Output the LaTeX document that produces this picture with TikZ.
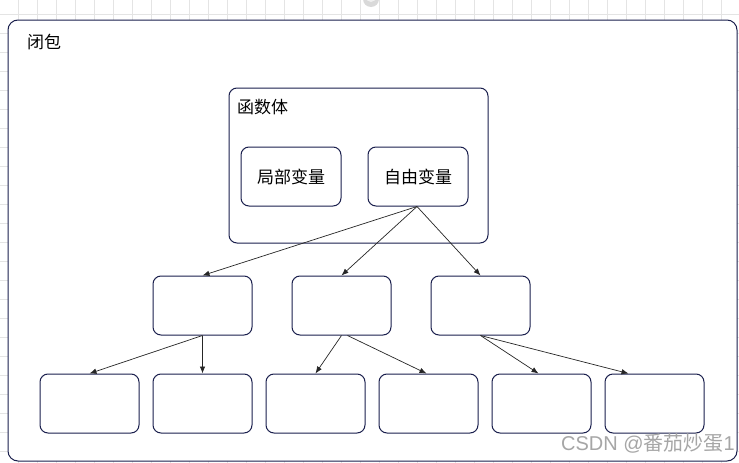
\documentclass[tikz,border=0pt]{standalone}
\usepackage{fontspec}
\newfontfamily\cjk{Noto Sans CJK SC}
\newfontfamily\wlat{Liberation Sans}
\usetikzlibrary{arrows.meta}
\definecolor{boxc}{HTML}{1A1F4D}
\definecolor{gridc}{HTML}{E4E4E4}
\begin{document}
\begin{tikzpicture}[x=1pt,y=-1pt,
  box/.style={draw=boxc, line width=1pt, rounded corners=8pt, fill=white, inner sep=0pt},
  cell/.style={box, minimum width=99pt, minimum height=59pt},
  conn/.style={draw=black!85, line width=0.7pt, -{Latex[length=7pt,width=5.5pt]}},
  lbl/.style={font=\cjk\fontsize{17}{19}\selectfont, text=black, inner sep=0pt}]
\useasboundingbox (0,0) rectangle (739,463);
\fill[white] (0,0) rectangle (739,463);
\foreach \i in {0,...,39} \draw[gridc, line width=0.8pt] (19*\i-0.3,0) -- (19*\i-0.3,463);
\foreach \j in {0,...,24} \draw[gridc, line width=0.8pt] (0,14+19*\j) -- (739,14+19*\j);
\fill[gray!30] (371,-1) circle (8);
\fill[gray!12] (371,-3) circle (5);
% outer
\node[box, rounded corners=10pt, minimum width=729pt, minimum height=441pt] (outer) at (372.5,240.5) {};
\node[lbl, anchor=west] (tclos) at (27,42) {闭包};
% function body
\node[box, minimum width=259pt, minimum height=155pt] (body) at (358.5,165.5) {};
\node[lbl, anchor=west] (tbody) at (237,107) {函数体};
\node[cell, minimum width=100pt] (local) at (291,176.5) {};
\node[lbl] (tlocal) at (local.center) {局部变量};
\node[cell, minimum width=100pt] (free) at (418,176.5) {};
\node[lbl] (tfree) at (free.center) {自由变量};
% row 2
\node[cell] (ra) at (202.5,305.5) {};
\node[cell] (rb) at (341.5,305.5) {};
\node[cell] (rc) at (480.5,305.5) {};
% row 3
\node[cell] (sa) at (89.5,403.5) {};
\node[cell] (sb) at (202.5,403.5) {};
\node[cell] (sc) at (315.5,403.5) {};
\node[cell] (sd) at (428.5,403.5) {};
\node[cell] (se) at (541.5,403.5) {};
\node[cell] (sf) at (654.5,403.5) {};
% connectors
\draw[conn] ([xshift=-1pt]free.south) -- (ra.north);
\draw[conn] ([xshift=-1pt]free.south) -- (rb.north);
\draw[conn] ([xshift=-1pt]free.south) -- (rc.north);
\draw[conn] (ra.south) -- (sa.north);
\draw[conn] (ra.south) -- (sb.north);
\draw[conn] (rb.south) -- (sc.north);
\draw[conn] ([xshift=6pt]rb.south) -- ([xshift=-2pt]sd.north);
\draw[conn] (rc.south) -- ([xshift=-3pt]se.north);
\draw[conn] (rc.south) -- ([xshift=-26pt]sf.north);
% watermark
\node[font=\fontsize{20}{22}\selectfont, text=gray!70, anchor=east, inner sep=0pt] (wm) at (735,443) {\wlat CSDN @\cjk 番茄炒蛋\wlat 1};
\end{tikzpicture}
\end{document}
